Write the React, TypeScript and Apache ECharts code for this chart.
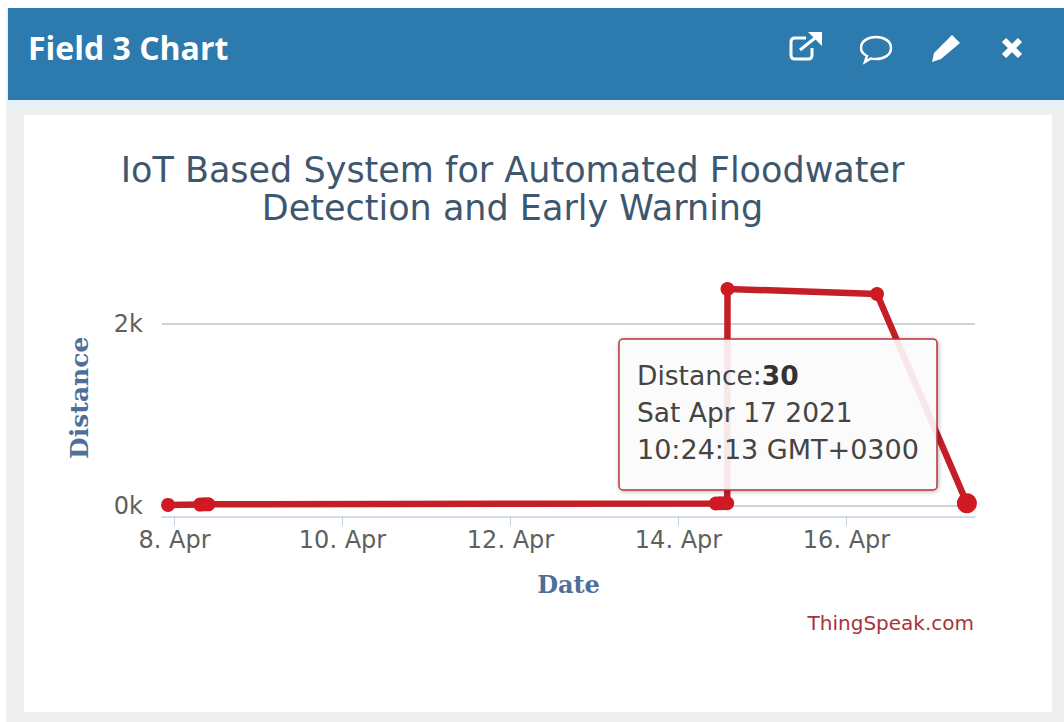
import React, { useEffect, useRef } from "react";
import * as echarts from "echarts";

const headerTitle = "Field 3 Chart";
const chartTitle = "IoT Based System for Automated Floodwater\nDetection and Early Warning";
const times = [
  "2021-04-07T22:09:00", "2021-04-08T07:20:00", "2021-04-08T08:30:00", "2021-04-08T09:40:00",
  "2021-04-14T10:40:00", "2021-04-14T11:50:00", "2021-04-14T13:00:00", "2021-04-14T13:55:00",
  "2021-04-14T14:00:00", "2021-04-16T08:43:00", "2021-04-17T10:24:13",
];
const distances = [12, 15, 18, 18, 28, 30, 30, 30, 2385, 2330, 30];
const xTickDates = ["2021-04-08T00:00:00", "2021-04-10T00:00:00", "2021-04-12T00:00:00", "2021-04-14T00:00:00", "2021-04-16T00:00:00"];
const yTickValues = [0, 2000];
const monthNames = ["Jan", "Feb", "Mar", "Apr", "May", "Jun", "Jul", "Aug", "Sep", "Oct", "Nov", "Dec"];
const tooltipLines = ["Sat Apr 17 2021", "10:24:13 GMT+0300"];

const FONT = "'DejaVu Sans', sans-serif";
const RED = "#c41e27";
const ms = (s: string) => new Date(s).getTime();

echarts.graphic.registerShape("iconLink", echarts.graphic.extendPath("M806 38H795Q791 38 791 42V55Q791 59 795 59H808Q812 59 812 55V48M800 50L815 38", {}));
echarts.graphic.registerShape("iconHead", echarts.graphic.extendPath("M808 32H822V46Z", {}));
echarts.graphic.registerShape("iconBubble", echarts.graphic.extendPath("M861 48C861 41 868 37 876 37C884 37 891 41 891 48C891 55 884 59 876 59C874 59 872 59 871 58.500L865 62L867 56C863 54 861 51 861 48Z", {}));
echarts.graphic.registerShape("iconPencil", echarts.graphic.extendPath("M952 35L960 43L941 59L932 62L934 53Z", {}));
echarts.graphic.registerShape("iconClose", echarts.graphic.extendPath("M1004 40L1020 56M1020 40L1004 56", {}));

export default function App() {
  const ref = useRef<HTMLDivElement>(null);
  useEffect(() => {
    const chart = echarts.init(ref.current!, undefined, { renderer: "svg" });
    chart.setOption({
      animation: false,
      backgroundColor: "transparent",
      title: {
        text: chartTitle,
        left: 507.5,
        top: 146,
        textAlign: "center",
        textStyle: { fontFamily: FONT, fontSize: 35, fontWeight: "normal", color: "#3e576f", lineHeight: 38 },
      },
      grid: { left: 162, right: 89, top: 278.5, height: 238.5 },
      xAxis: {
        type: "value",
        scale: true,
        min: ms("2021-04-07T20:25:30"),
        max: ms("2021-04-17T12:43:00"),
        name: "Date",
        nameLocation: "middle",
        nameGap: 55,
        nameTextStyle: { fontFamily: "'DejaVu Serif', serif", fontWeight: "bold", fontSize: 24, color: "#4d6f98" },
        axisLine: { onZero: false, lineStyle: { color: "#c0d0e0", width: 1.5 } },
        axisTick: { length: 9, lineStyle: { color: "#c0d0e0" }, customValues: xTickDates.map(ms) },
        axisLabel: {
          customValues: xTickDates.map(ms),
          fontFamily: FONT, fontSize: 24, color: "#606060", margin: 11,
          formatter: (v: number) => { const d = new Date(v); return `${d.getDate()}. ${monthNames[d.getMonth()]}`; },
        },
        splitLine: { show: false },
      },
      yAxis: {
        type: "value",
        min: -121,
        max: 2500,
        name: "Distance",
        nameLocation: "middle",
        nameGap: 70,
        nameTextStyle: { fontFamily: "'DejaVu Serif', serif", fontWeight: "bold", fontSize: 25, color: "#4d6f98" },
        axisLine: { show: false },
        axisTick: { show: false, customValues: yTickValues },
        axisLabel: {
          customValues: yTickValues,
          fontFamily: FONT, fontSize: 24, color: "#606060", margin: 19,
          formatter: (v: number) => `${v / 1000}k`,
        },
        splitLine: { show: true, lineStyle: { color: "#c4c4c4", width: 1.5 } },
      },
      series: [{
        type: "line",
        data: times.map((t, i) => [ms(t), distances[i]]),
        lineStyle: { color: RED, width: 6.5 },
        itemStyle: { color: "#cf1a24" },
        symbol: "circle",
        symbolSize: (_: unknown, p: { dataIndex: number }) => (p.dataIndex === times.length - 1 ? 20 : 14),
        showSymbol: true,
        showAllSymbol: true,
      }],
      graphic: [
        { type: "rect", z: -10, shape: { x: 6, y: 8, width: 1058, height: 714 }, style: { fill: "#efefef" } },
        { type: "rect", z: -9, shape: { x: 8, y: 100, width: 1056, height: 10 }, style: { fill: "#e6f1f8" } },
        { type: "rect", z: -8, shape: { x: 24, y: 115, width: 1028, height: 597 }, style: { fill: "#ffffff" } },
        { type: "rect", z: -7, shape: { x: 8, y: 8, width: 1056, height: 92 }, style: { fill: "#2c7aae" } },
        { type: "text", z: 50, x: 28, y: 47.5, style: { text: headerTitle, fill: "#ffffff", font: `bold 32px 'Open Sans', sans-serif`, verticalAlign: "middle", align: "left" } },
        { type: "iconLink", z: 50, style: { fill: "none", stroke: "#ffffff", lineWidth: 3 } },
        { type: "iconHead", z: 50, style: { fill: "#ffffff" } },
        { type: "iconBubble", z: 50, style: { fill: "none", stroke: "#ffffff", lineWidth: 2.500 } },
        { type: "iconPencil", z: 50, style: { fill: "#ffffff" } },
        { type: "iconClose", z: 50, style: { fill: "none", stroke: "#ffffff", lineWidth: 6 } },
        { type: "text", z: 50, x: 974, y: 623, style: { text: "ThingSpeak.com", fill: "#a8333a", font: `20px ${FONT}`, align: "right", verticalAlign: "middle" } },
        {
          type: "rect", z: 60, shape: { x: 619, y: 339, width: 318, height: 151, r: 4 },
          style: { fill: "rgba(255,255,255,0.88)", stroke: "#b8323e", lineWidth: 1.500, shadowBlur: 4, shadowOffsetX: 1, shadowOffsetY: 1, shadowColor: "rgba(0,0,0,0.3)" },
        },
        {
          type: "text", z: 61, x: 637, y: 375,
          style: {
            text: "{a|Distance:}{b|30}", align: "left", verticalAlign: "middle",
            rich: {
              a: { font: `26.5px ${FONT}`, fill: "#444444" },
              b: { font: `bold 26.5px ${FONT}`, fill: "#333333" },
            },
          },
        },
        { type: "text", z: 61, x: 637, y: 412, style: { text: tooltipLines[0], fill: "#444444", font: `26.5px ${FONT}`, align: "left", verticalAlign: "middle" } },
        { type: "text", z: 61, x: 637, y: 449, style: { text: tooltipLines[1], fill: "#444444", font: `27px ${FONT}`, align: "left", verticalAlign: "middle" } },
      ],
    });
    return () => chart.dispose();
  }, []);
  return <div ref={ref} style={{ position: "absolute", left: 0, top: 0, width: 1064, height: 722 }} />;
}
